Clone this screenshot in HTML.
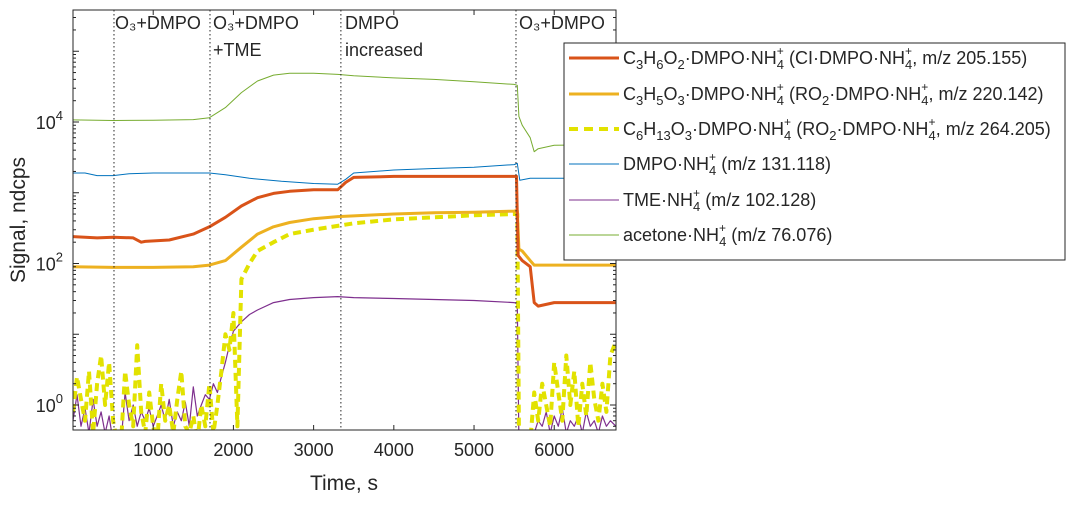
<!DOCTYPE html>
<html><head><meta charset="utf-8">
<style>
body{margin:0;background:#fff;width:1073px;height:502px;overflow:hidden;font-family:"Liberation Sans",sans-serif;}
svg text{font-family:"Liberation Sans",sans-serif;fill:#262626;}
</style></head>
<body>
<svg id="chart" width="1073" height="502" viewBox="0 0 1073 502" xmlns="http://www.w3.org/2000/svg">
<defs><clipPath id="clip"><rect x="73" y="10" width="543" height="420"/></clipPath></defs>
<g id="plot" clip-path="url(#clip)"></g>
<g id="axes"></g>
<g id="legend"></g>
</svg>
<script>
const xTicks=[1000,2000,3000,4000,5000,6000];
const yLabelExps=[0,2,4];
const eventTimes=[511,1708,3340,5523];
const eventLabels=[["O₃+DMPO"],["O₃+DMPO","+TME"],["DMPO","increased"],["O₃+DMPO"]];
const eventLabelX=[115,213,345,519];

const acetoneT=[0,500,1000,1500,1700,1900,2100,2300,2500,2700,3000,3300,3500,4000,4500,5000,5500,5540,5560,5600,5700,5750,5800,6000,6770];
const acetoneV=[10700,10500,10600,10800,11500,16000,26000,38000,46000,49000,49000,47000,45000,42000,40000,37000,34000,33000,12000,9000,6000,3800,4200,4700,4800];
const dmpoT=[0,150,300,500,700,1000,1300,1700,1900,2200,2600,3000,3300,3400,3500,4000,4500,5000,5500,5540,5570,5700,5800,6770];
const dmpoV=[1900,1900,1750,1750,1850,1900,1900,1900,1800,1600,1450,1350,1320,1550,1900,2100,2200,2300,2500,2600,1500,1600,1600,1600];
const clT=[0,300,500,750,850,900,1200,1500,1700,1900,2100,2300,2500,2700,3000,3300,3400,3500,4000,4500,5000,5500,5530,5550,5600,5700,5750,5800,6000,6770];
const clV=[240,230,235,230,200,205,215,260,330,450,650,850,980,1050,1100,1100,1400,1650,1700,1700,1700,1700,1700,130,110,90,28,25,28,28];
const ro2aT=[0,500,1000,1500,1700,1900,2100,2300,2500,2700,3000,3300,3500,4000,4500,5000,5500,5540,5560,5600,5700,5750,6000,6770];
const ro2aV=[90,88,88,90,95,110,170,260,330,380,430,460,470,500,520,530,550,560,160,150,110,95,95,95];
const ro2bT=[0,50,100,150,200,250,300,350,400,450,500,550,600,650,700,750,800,850,900,950,1000,1050,1100,1150,1200,1250,1300,1350,1400,1450,1500,1550,1600,1650,1700,1750,1800,1850,1900,1950,2000,2050,2100,2200,2300,2500,2700,3000,3300,3500,4000,4500,5000,5500,5540,5560,5600,5700,5750,5800,5850,5900,5950,6000,6050,6100,6150,6200,6250,6300,6350,6400,6450,6500,6550,6600,6650,6700,6770];
const ro2bV=[0.8,2.5,1.2,0.6,3,0.4,2,5,1,4,0.6,0.3,0.3,3,1,0.5,7,0.8,0.4,1.5,0.5,0.3,2,0.6,1,0.4,1.2,3,0.5,0.4,0.7,0.3,1,0.5,2,0.4,1,3,10,6,20,0.5,60,100,150,200,260,300,340,370,420,450,480,500,500,0.5,0.3,0.3,1.5,0.6,2,1,0.5,4,1.5,0.6,5,1,3,0.5,2,0.7,4,1.2,0.6,2,0.8,5,8];
const tmeT=[0,50,100,150,200,250,300,350,400,450,500,550,600,650,700,750,800,850,900,950,1000,1050,1100,1150,1200,1250,1300,1350,1400,1450,1500,1550,1600,1650,1700,1750,1800,1850,1900,1950,2000,2100,2200,2300,2500,2700,3000,3300,3500,4000,4500,5000,5500,5540,5560,5600,5700,5750,5800,5850,5900,5950,6000,6050,6100,6150,6200,6250,6300,6350,6400,6450,6500,6550,6600,6650,6700,6770];
const tmeV=[0.6,1.4,0.5,0.9,0.4,1.2,0.5,0.8,0.4,0.7,0.3,0.3,0.3,1.5,0.6,1.0,0.5,0.8,0.6,0.9,0.5,0.7,1.0,0.6,1.2,0.5,0.8,0.6,1.1,0.5,1.8,0.7,1.0,1.4,1.2,2.0,1.5,2.5,4,7,11,15,19,22,28,31,33,34,33,32,31,30,28,27,0.3,0.3,0.3,0.4,0.6,0.5,0.8,0.4,0.7,0.5,0.9,0.4,0.6,0.5,0.7,0.4,0.8,0.5,0.6,0.4,0.7,0.5,0.6,0.5];

const X0=73,X1=616,TMAX=6770,Y_E4=122,DEC=70.75;
function X(t){return X0+(t/TMAX)*(X1-X0);}
function Y(v){return Y_E4-(Math.log10(v)-4)*DEC;}
const NS="http://www.w3.org/2000/svg";
function mk(tag,attrs,parent){const e=document.createElementNS(NS,tag);for(const k in attrs)e.setAttribute(k,attrs[k]);parent.appendChild(e);return e;}
const plot=document.getElementById('plot'),axes=document.getElementById('axes'),leg=document.getElementById('legend');

eventTimes.forEach((t,i)=>{
 const l=mk('line',{x1:X(t),x2:X(t),y1:10,y2:430,stroke:'#262626','stroke-width':1,'stroke-dasharray':'1.5,2.5'},axes);
 
 
 eventLabels[i].forEach((s,j)=>{
  const tx=mk('text',{x:eventLabelX[i],y:29+j*27,'font-size':18},axes);tx.textContent=s;
  
  
 });
});

function series(ts,vs,color,w,dash,name){
 let d='';ts.forEach((t,i)=>{d+=(i?'L':'M')+X(t).toFixed(1)+','+Y(vs[i]).toFixed(1);});
 const p=mk('path',{d:d,fill:'none',stroke:color,'stroke-width':w,'stroke-linejoin':'round'},plot);
 if(dash)p.setAttribute('stroke-dasharray',dash);
 
 
}
series(acetoneT,acetoneV,'#77AC30',1,null,'acetone-line');
series(dmpoT,dmpoV,'#0072BD',1,null,'dmpo-line');
series(tmeT,tmeV,'#7E2F8E',1.2,null,'tme-line');
series(ro2bT,ro2bV,'#E2E200',4,'8,5','c6h13o3-line');
series(ro2aT,ro2aV,'#EDB120',3,null,'c3h5o3-line');
series(clT,clV,'#D95319',3,null,'c3h6o2-line');

const box=mk('rect',{x:X0,y:10,width:X1-X0,height:420,fill:'none',stroke:'#262626','stroke-width':1},axes);


xTicks.forEach(t=>{
 mk('line',{x1:X(t),x2:X(t),y1:430,y2:425,stroke:'#262626'},axes);
 mk('line',{x1:X(t),x2:X(t),y1:10,y2:15,stroke:'#262626'},axes);
 const tx=mk('text',{x:X(t),y:456,'font-size':18,'text-anchor':'middle'},axes);tx.textContent=t;
 
 
});
for(let e=-1;e<=5;e++){for(let m=1;m<=9;m++){const v=m*Math.pow(10,e);const y=Y(v);if(y<10||y>430)continue;const len=m==1?6:3;
 mk('line',{x1:X0,x2:X0+len,y1:y,y2:y,stroke:'#262626'},axes);mk('line',{x1:X1,x2:X1-len,y1:y,y2:y,stroke:'#262626'},axes);}}
yLabelExps.forEach(e=>{
 const tx=mk('text',{x:63,y:Y(Math.pow(10,e))+7,'font-size':18,'text-anchor':'end'},axes);
 tx.innerHTML='10<tspan dy="-9" font-size="13">'+e+'</tspan>';
 
 
});
const xt=mk('text',{x:344,y:490,'font-size':21,'text-anchor':'middle'},axes);xt.textContent='Time, s';


const yt=mk('text',{x:0,y:0,'font-size':21,'text-anchor':'middle',transform:'translate(25,220) rotate(-90)'},axes);yt.textContent='Signal, ndcps';



const lb=mk('rect',{x:564,y:43,width:501,height:217,fill:'#fff',stroke:'#262626','stroke-width':1},leg);


const S='<tspan dy="5" font-size="13">', E='</tspan><tspan dy="-5">', NH='NH<tspan dy="-9" font-size="12">+</tspan><tspan dx="-7" dy="14" font-size="13">4</tspan><tspan dy="-5">';
const legItems=[
 {c:'#D95319',w:3,d:null,h:'C'+S+'3'+E+'H'+S+'6'+E+'O'+S+'2'+E+'·DMPO·'+NH+' (CI·DMPO·'+NH+', m/z 205.155)</tspan>'},
 {c:'#EDB120',w:3,d:null,h:'C'+S+'3'+E+'H'+S+'5'+E+'O'+S+'3'+E+'·DMPO·'+NH+' (RO'+S+'2'+E+'·DMPO·'+NH+', m/z 220.142)</tspan>'},
 {c:'#E2E200',w:4,d:'9,6',h:'C'+S+'6'+E+'H'+S+'13'+E+'O'+S+'3'+E+'·DMPO·'+NH+' (RO'+S+'2'+E+'·DMPO·'+NH+', m/z 264.205)</tspan>'},
 {c:'#0072BD',w:1,d:null,h:'DMPO·'+NH+' (m/z 131.118)</tspan>'},
 {c:'#7E2F8E',w:1,d:null,h:'TME·'+NH+' (m/z 102.128)</tspan>'},
 {c:'#77AC30',w:1,d:null,h:'acetone·'+NH+' (m/z 76.076)</tspan>'}
];
const legY=[58,94,129,164,200,235];
legItems.forEach((it,i)=>{
 const g=mk('g',{},leg);
 
 
 const l=mk('line',{x1:569,x2:619,y1:legY[i],y2:legY[i],stroke:it.c,'stroke-width':it.w},g);
 if(it.d)l.setAttribute('stroke-dasharray',it.d);
 const tx=mk('text',{x:623,y:legY[i]+6,'font-size':18},g);tx.innerHTML=it.h;
});
</script>
</body></html>
